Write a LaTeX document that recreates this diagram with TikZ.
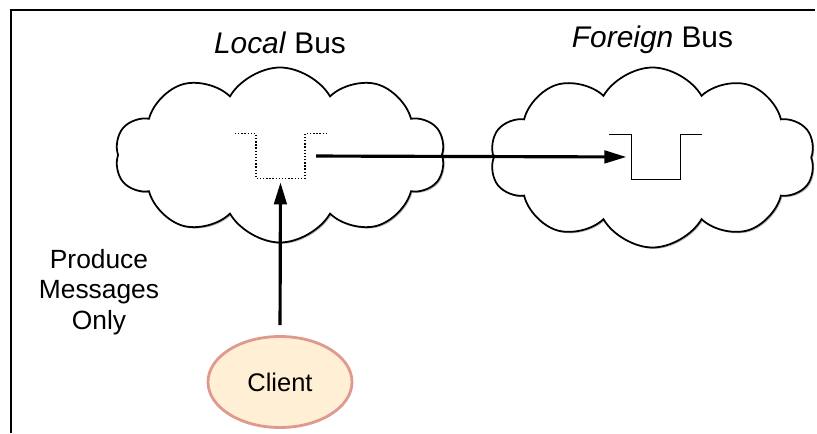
\documentclass[tikz,border=0pt]{standalone}
\usepackage{fontspec}
\setmainfont{Liberation Sans}
\usepackage{tikz}
\usetikzlibrary{
  arrows.meta, positioning, shapes.geometric, shapes.symbols, shadows
}
\usepackage{xcolor}
\definecolor{mframe}{HTML}{000000}
\definecolor{mclientfill}{HTML}{FFF0D5}
\definecolor{mclientdraw}{HTML}{DE9A8E}
\tikzset{
  busbox/.style={cloud, cloud puffs=10, cloud puff arc=120, aspect=2,
                 draw=black, line width=1pt, fill=white,
                 drop shadow={shadow xshift=0.8pt, shadow yshift=-0.8pt,
                              opacity=0.4, fill=black!70}},
  bustitle/.style={font=\fontsize{17}{20}\selectfont},
  qslot/.style={minimum width=0.97cm, minimum height=0.88cm, inner sep=0pt},
  clientbox/.style={ellipse, draw=mclientdraw, fill=mclientfill, line width=1.6pt,
                    minimum width=2.88cm, minimum height=1.82cm,
                    font=\fontsize{14.5}{17}\selectfont},
  note/.style={align=center, font=\fontsize{15}{17.5}\selectfont},
  arr/.style={-{Triangle[length=0.44cm, width=0.25cm]}, line width=1.8pt, black},
}

\begin{document}
\begin{tikzpicture}
  \useasboundingbox (0,0) rectangle (16.34,8.66);
  % Rahmen
  \draw[mframe, line width=0.8pt] (0.22,0) -- (0.22,8.46) -- (16.30,8.46);
  % Local bus
  \node[busbox, minimum width=6.60cm, minimum height=3.50cm] (lbus) at (5.60, 5.56) {};
  \node[bustitle, above=4pt of lbus] {\textit{Local} Bus};
  \node[qslot] (lq) at (5.61, 5.54) {};
  \draw[densely dotted, line width=0.8pt]
    ([xshift=-0.42cm]lq.north west) -- (lq.north west) -- (lq.south west)
    -- (lq.south east) -- (lq.north east) -- ([xshift=0.42cm]lq.north east);
  % Foreign bus
  \node[busbox, minimum width=6.50cm, minimum height=3.60cm] (fbus) at (13.05, 5.51) {};
  \node[bustitle, above=4pt of fbus] {\textit{Foreign} Bus};
  \node[qslot] (fq) at (13.12, 5.52) {};
  \draw[line width=0.9pt]
    ([xshift=-0.44cm]fq.north west) -- (fq.north west) -- (fq.south west)
    -- (fq.south east) -- (fq.north east) -- ([xshift=0.42cm]fq.north east);
  % Client
  \node[clientbox] (client) at (5.60, 1.02) {Client};
  \node[note] (only) at (1.98, 2.82) {Produce\\Messages\\Only};
  % Pfeile
  \draw[arr, shorten <=0.22cm, shorten >=0.1cm] (lq.east) -- (fq.west);
  \draw[arr, shorten <=0.2cm, shorten >=0.08cm] (client.north) -- (lq.south);
\end{tikzpicture}
\end{document}
